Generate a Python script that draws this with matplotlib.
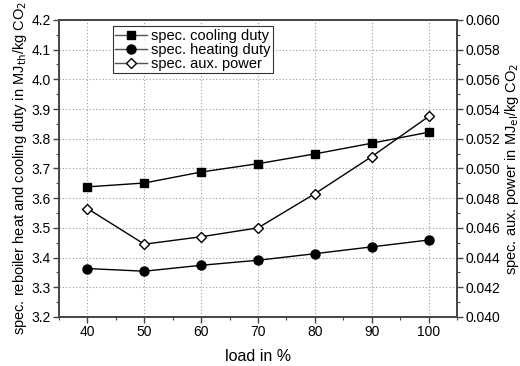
import numpy as np
import matplotlib.pyplot as plt
from matplotlib.ticker import MultipleLocator

plt.rcParams['font.family'] = ['Liberation Sans', 'DejaVu Sans']

# load points and specific duties per kg CO2
load = [40, 50, 60, 70, 80, 90, 100]
cooling_duty = [3.638, 3.651, 3.688, 3.716, 3.749, 3.785, 3.822]
heating_duty = [3.363, 3.354, 3.374, 3.391, 3.413, 3.436, 3.459]
aux_power = [0.0473, 0.0449, 0.0454, 0.0460, 0.0483, 0.0508, 0.0535]

fig = plt.figure(figsize=(5.2, 3.66), dpi=100)
ax = fig.add_axes([0.1135, 0.134, 0.7655, 0.8115])
ax2 = ax.twinx()

l1, = ax.plot(load, cooling_duty, '-s', color='black', lw=1, ms=6,
              label='spec. cooling duty')
l2, = ax.plot(load, heating_duty, '-o', color='black', lw=1, ms=6.5,
              label='spec. heating duty')
l3, = ax2.plot(load, aux_power, '-D', color='black', lw=1, ms=5.5,
               mfc='white', mew=1, label='spec. aux. power')

ax.set_xlim(35, 105)
ax.set_ylim(3.2, 4.2)
ax2.set_ylim(0.040, 0.060)

ax.xaxis.set_major_locator(MultipleLocator(10))
ax.xaxis.set_minor_locator(MultipleLocator(5))
ax.yaxis.set_major_locator(MultipleLocator(0.1))
ax.yaxis.set_minor_locator(MultipleLocator(0.05))
ax2.yaxis.set_major_locator(MultipleLocator(0.002))
ax2.yaxis.set_minor_locator(MultipleLocator(0.001))
ax.yaxis.set_major_formatter(plt.FormatStrFormatter('%.1f'))
ax2.yaxis.set_major_formatter(plt.FormatStrFormatter('%.3f'))

ax.grid(True, which='major', color='#999999', linestyle=(0, (1, 2)), lw=0.8)
ax.set_axisbelow(True)

for a in (ax, ax2):
    for s in a.spines.values():
        s.set_color('#444444')
        s.set_linewidth(1.2)
    a.tick_params(which='major', direction='out', length=4, width=1,
                  color='#444444', labelsize=10, pad=2)
    a.tick_params(which='minor', direction='out', length=2.5, width=0.8,
                  color='#444444')

ax.set_xlabel('load in %', fontsize=11.5, labelpad=7)
ax.set_ylabel('spec. reboiler heat and cooling duty in MJ$_{\\mathrm{th}}$/kg CO$_2$',
              fontsize=10.5, labelpad=2)
ax2.set_ylabel('spec. aux. power in MJ$_{\\mathrm{el}}$/kg CO$_2$',
               fontsize=10.5, labelpad=2)

leg = ax.legend(handles=[l1, l2, l3], loc='upper left',
                bbox_to_anchor=(0.135, 0.978), fontsize=10.5,
                frameon=True, fancybox=False, edgecolor='black',
                handlelength=2.2, handletextpad=0.3, borderpad=0.15,
                labelspacing=0.0, borderaxespad=0)
leg.get_frame().set_linewidth(0.8)
for h, face in zip(leg.get_lines(), ['black', 'black', 'white']):
    h.set_color('#555555')
    h.set_markerfacecolor(face)
    h.set_markeredgecolor('black')

fig.savefig('out.png', dpi=100)
